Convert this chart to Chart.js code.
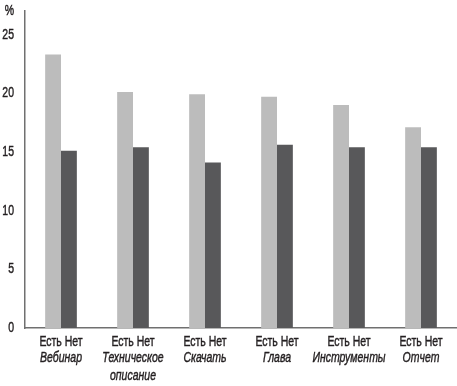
<!DOCTYPE html>
<html>
<head>
<meta charset="utf-8">
<script src="https://cdn.jsdelivr.net/npm/chart.js@4/dist/chart.umd.min.js"></script>
<style>
  html, body { margin: 0; padding: 0; background: #fff; }
  #wrap { width: 457px; height: 386px; }
</style>
</head>
<body>
<div id="wrap"><canvas id="chart" width="457" height="386"></canvas></div>
<script>
// data
var categories = ["Вебинар", ["Техническое", "описание"], "Скачать", "Глава", "Инструменты", "Отчет"];
var pairLabels = ["Есть Нет", "Есть Нет", "Есть Нет", "Есть Нет", "Есть Нет", "Есть Нет"];
var yesValues = [23.3, 20.1, 19.9, 19.7, 19.0, 17.1];
var noValues = [15.1, 15.4, 14.1, 15.6, 15.4, 15.4];
var yTicks = [0, 5, 10, 15, 20, 25];

var fontFamily = "'Liberation Sans', Arial, sans-serif";
var textColor = "#231f20";
var axisColor = "#707070";
var squeeze = 0.7;

// the reference uses a condensed, slightly heavier face: squeeze the text and thicken it a little
var condensed = {
    id: "condensed",
    beforeDraw: function (chart) {
        var ctx = chart.ctx;
        if (ctx._squeezed) { return; }
        var orig = ctx.fillText;
        ctx.fillText = function (text, x, y) {
            this.save();
            this.translate(x, y);
            this.scale(squeeze, 1);
            orig.call(this, text, 0, 0);
            this.strokeStyle = this.fillStyle;
            this.lineWidth = 0.45;
            this.strokeText(text, 0, 0);
            this.restore();
        };
        ctx._squeezed = true;
    }
};

var chart = new Chart(document.getElementById("chart"), {
    type: "bar",
    data: {
        labels: pairLabels,
        datasets: [
            { label: "Есть", data: yesValues, backgroundColor: "#bcbcbc", xAxisID: "x" },
            { label: "Нет", data: noValues, backgroundColor: "#58585a", xAxisID: "x" }
        ]
    },
    plugins: [condensed],
    options: {
        responsive: false,
        animation: false,
        layout: { padding: { top: 11, right: 0, left: 0, bottom: 1 } },
        categoryPercentage: 0.44,
        barPercentage: 1.0,
        plugins: { legend: { display: false }, tooltip: { enabled: false } },
        scales: {
            x: {
                position: "bottom",
                grid: { display: false, drawTicks: false },
                border: { display: true, color: axisColor, width: 1.5 },
                afterFit: function (axis) { axis.height = 21; axis.paddingLeft = 0; axis.paddingRight = 0; },
                ticks: { color: textColor, font: { family: fontFamily, size: 15 }, padding: 5, maxRotation: 0, autoSkip: false }
            },
            x2: {
                type: "category",
                position: "bottom",
                labels: categories,
                offset: true,
                grid: { display: false, drawTicks: false },
                border: { display: false },
                afterFit: function (axis) { axis.height = 36; axis.paddingLeft = 0; axis.paddingRight = 0; },
                ticks: { color: textColor, font: { family: fontFamily, size: 15, style: "italic" }, padding: 0, maxRotation: 0, autoSkip: false }
            },
            y: {
                min: 0,
                max: 27,
                grid: { display: false, drawTicks: false },
                border: { display: true, color: axisColor, width: 1.5 },
                afterBuildTicks: function (axis) {
                    var t = yTicks.map(function (v) { return { value: v }; });
                    t.push({ value: 27 });
                    axis.ticks = t;
                },
                afterFit: function (axis) { axis.width = 25; axis.paddingTop = 0; axis.paddingBottom = 0; },
                ticks: {
                    color: textColor,
                    padding: 11,
                    font: { family: fontFamily, size: 15 },
                    callback: function (value) { return value === 27 ? "%" : value; }
                }
            }
        }
    }
});
</script>
</body>
</html>
